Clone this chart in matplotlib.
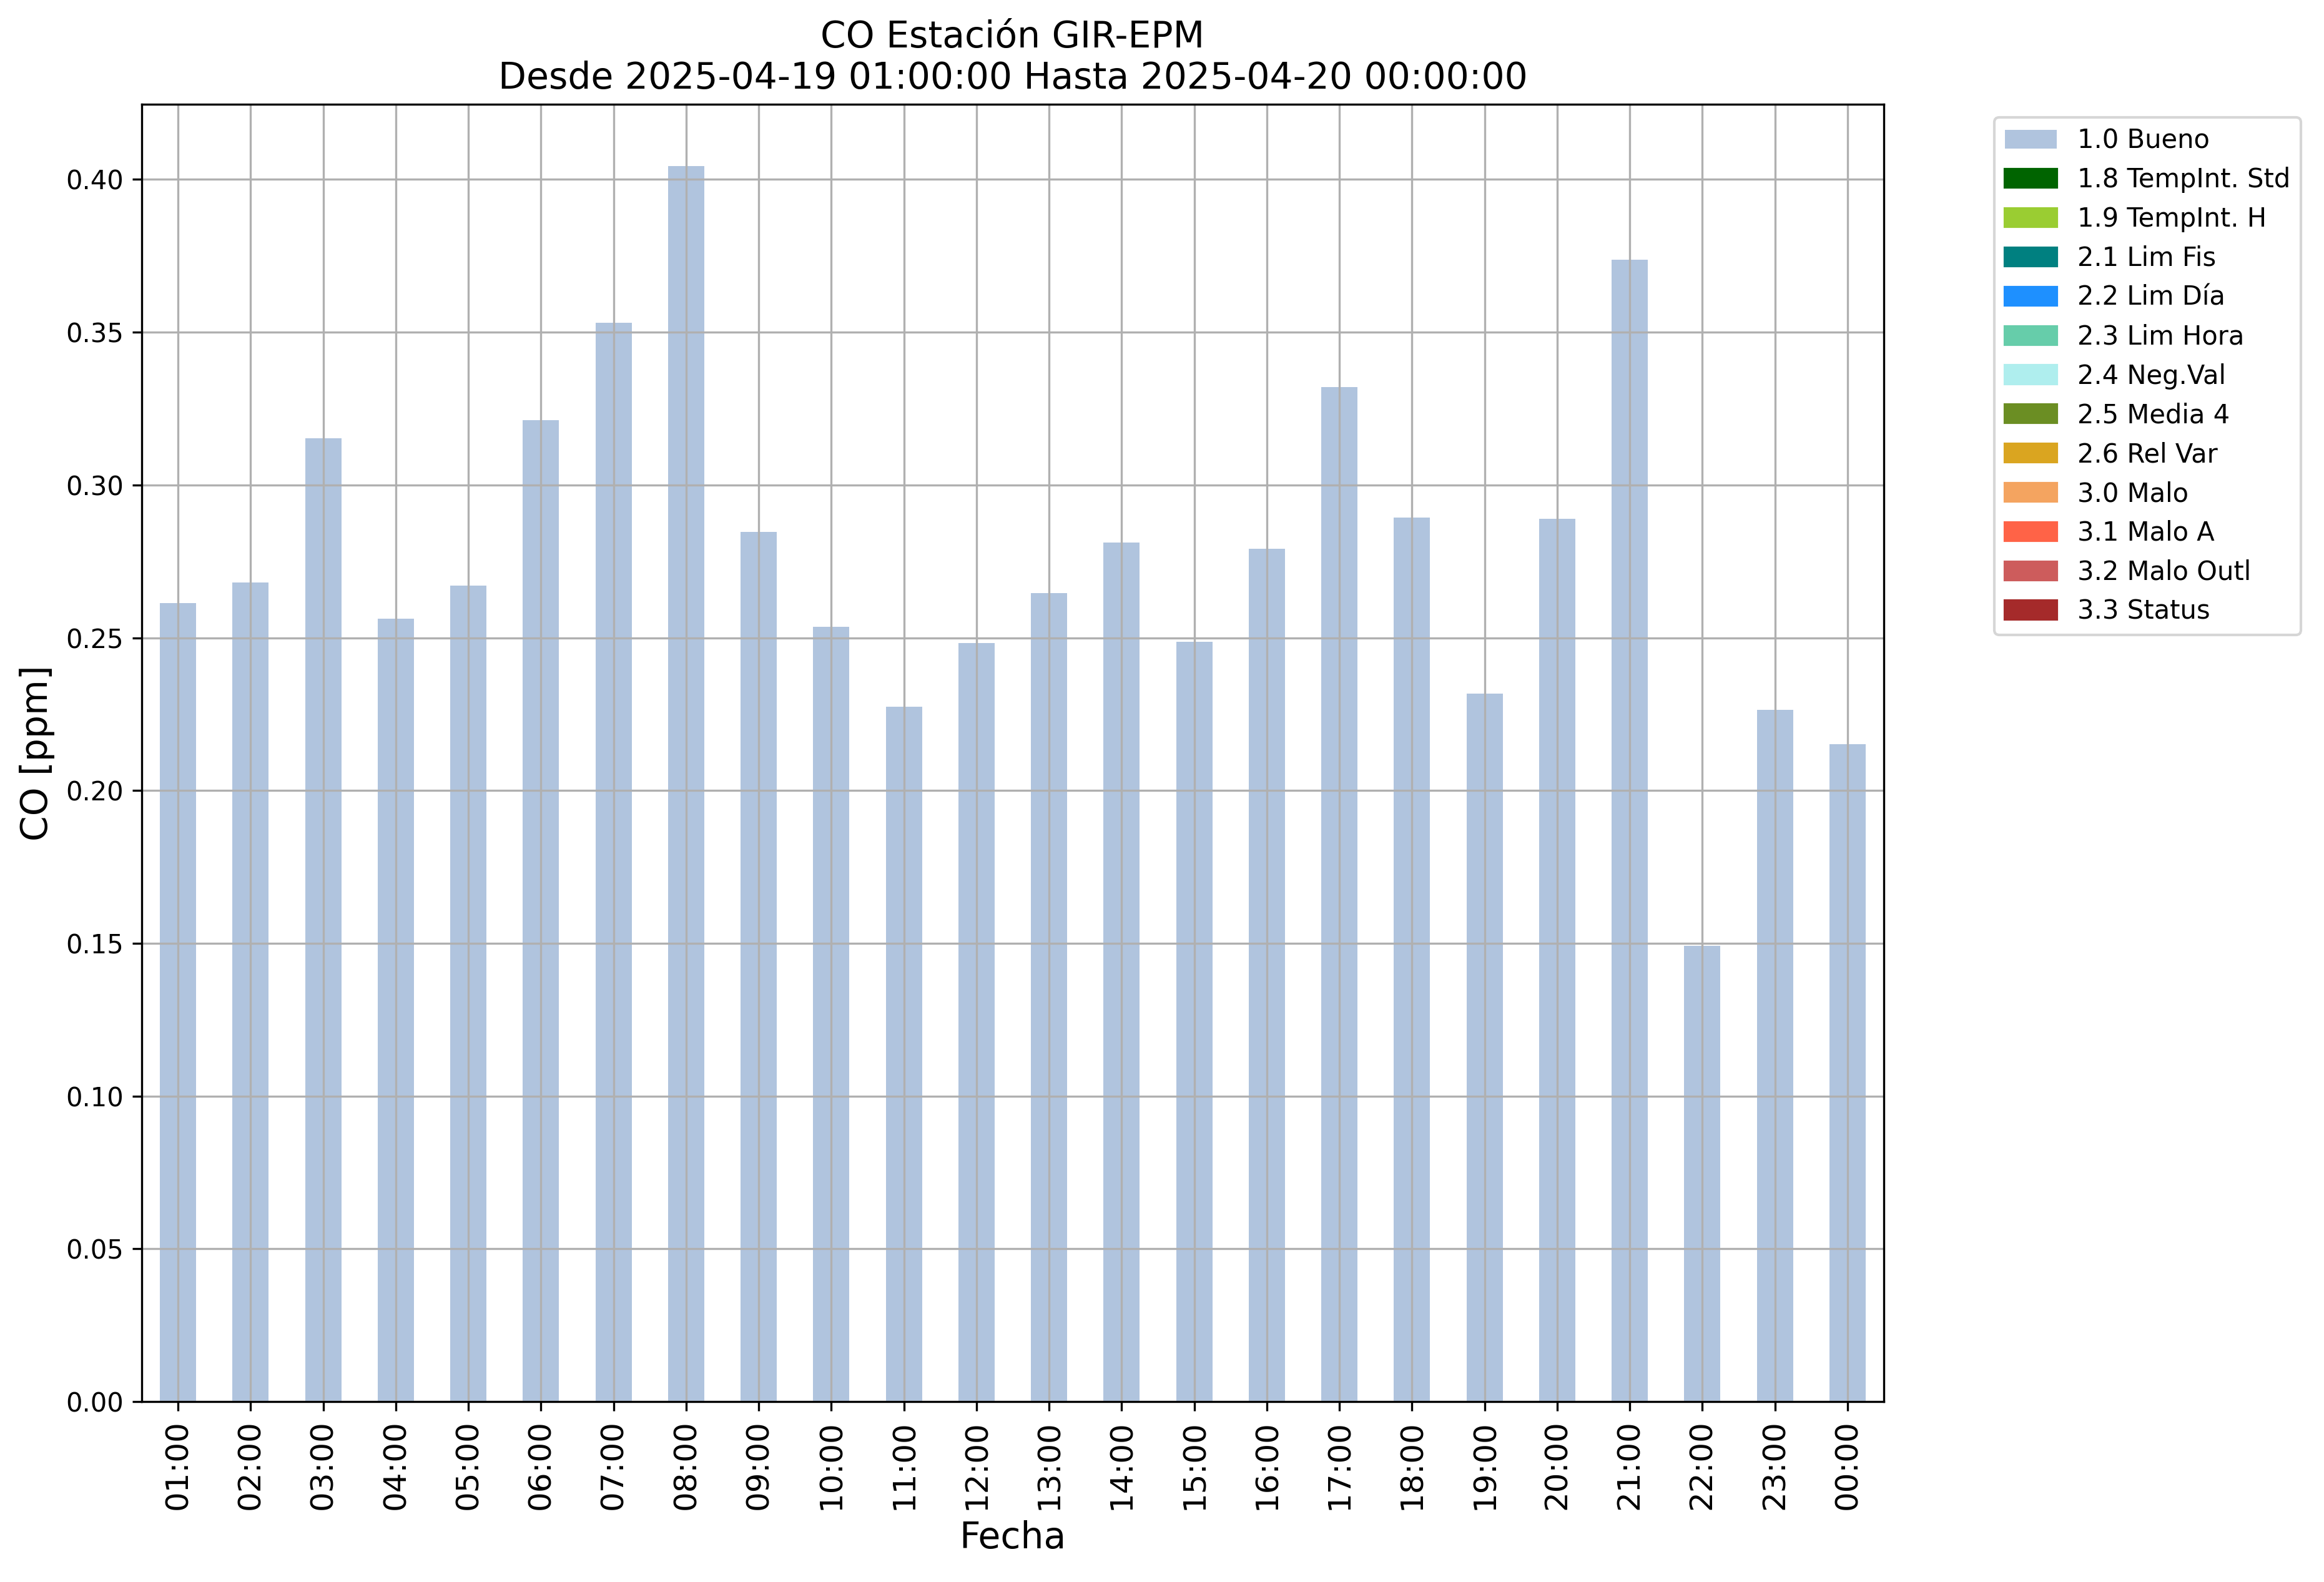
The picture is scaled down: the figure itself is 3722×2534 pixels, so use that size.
"""Hourly CO bar chart for station GIR-EPM, coloured by data-quality flag"""

import matplotlib
matplotlib.use('Agg')
import matplotlib.pyplot as plt
from matplotlib.patches import Patch

# hourly CO [ppm], 2025-04-19 01:00 to 2025-04-20 00:00, all flagged 1.0 Bueno
horas = ['01:00', '02:00', '03:00', '04:00', '05:00', '06:00', '07:00', '08:00',
         '09:00', '10:00', '11:00', '12:00', '13:00', '14:00', '15:00', '16:00',
         '17:00', '18:00', '19:00', '20:00', '21:00', '22:00', '23:00', '00:00']
co_bueno = [0.2613, 0.2680, 0.3153, 0.2563, 0.2670, 0.3213, 0.3530, 0.4044,
            0.2846, 0.2535, 0.2274, 0.2482, 0.2647, 0.2812, 0.2486, 0.2792,
            0.3320, 0.2894, 0.2317, 0.2890, 0.3738, 0.1492, 0.2265, 0.2152]

# quality flags and their colours
banderas = ['1.0 Bueno', '1.8 TempInt. Std', '1.9 TempInt. H', '2.1 Lim Fis',
            '2.2 Lim Día', '2.3 Lim Hora', '2.4 Neg.Val', '2.5 Media 4',
            '2.6 Rel Var', '3.0 Malo', '3.1 Malo A', '3.2 Malo Outl', '3.3 Status']
colores = ['lightsteelblue', 'darkgreen', 'yellowgreen', 'teal', 'dodgerblue',
           'mediumaquamarine', 'paleturquoise', 'olivedrab', 'goldenrod',
           'sandybrown', 'tomato', 'indianred', 'brown']

fig = plt.figure(figsize=(3722 / 300, 2534 / 300), dpi=300)
ax = fig.add_axes([227 / 3722, 1 - 2245 / 2534, (3017 - 227) / 3722, (2245 - 167) / 2534])

pos = list(range(len(horas)))
barras = ax.bar(pos, co_bueno, width=0.5, color=colores[0], label=banderas[0])

ax.set_xlim(-0.5, len(horas) - 0.5)
ax.set_xticks(pos)
ax.set_xticklabels(horas, rotation=90, fontsize=12)
ax.tick_params(axis='y', labelsize=10)
ax.grid(True)

ax.set_xlabel('Fecha', fontsize=14)
ax.set_ylabel('CO [ppm]', fontsize=14)
ax.set_title('CO Estación GIR-EPM\nDesde 2025-04-19 01:00:00 Hasta 2025-04-20 00:00:00',
             fontsize=14)

handles = [barras] + [Patch(color=c, label=b) for b, c in zip(banderas[1:], colores[1:])]
ax.legend(handles=handles, labels=banderas, loc='upper left',
          bbox_to_anchor=(1.056, 1), fontsize=10)

fig.savefig('out.png', dpi=300)
